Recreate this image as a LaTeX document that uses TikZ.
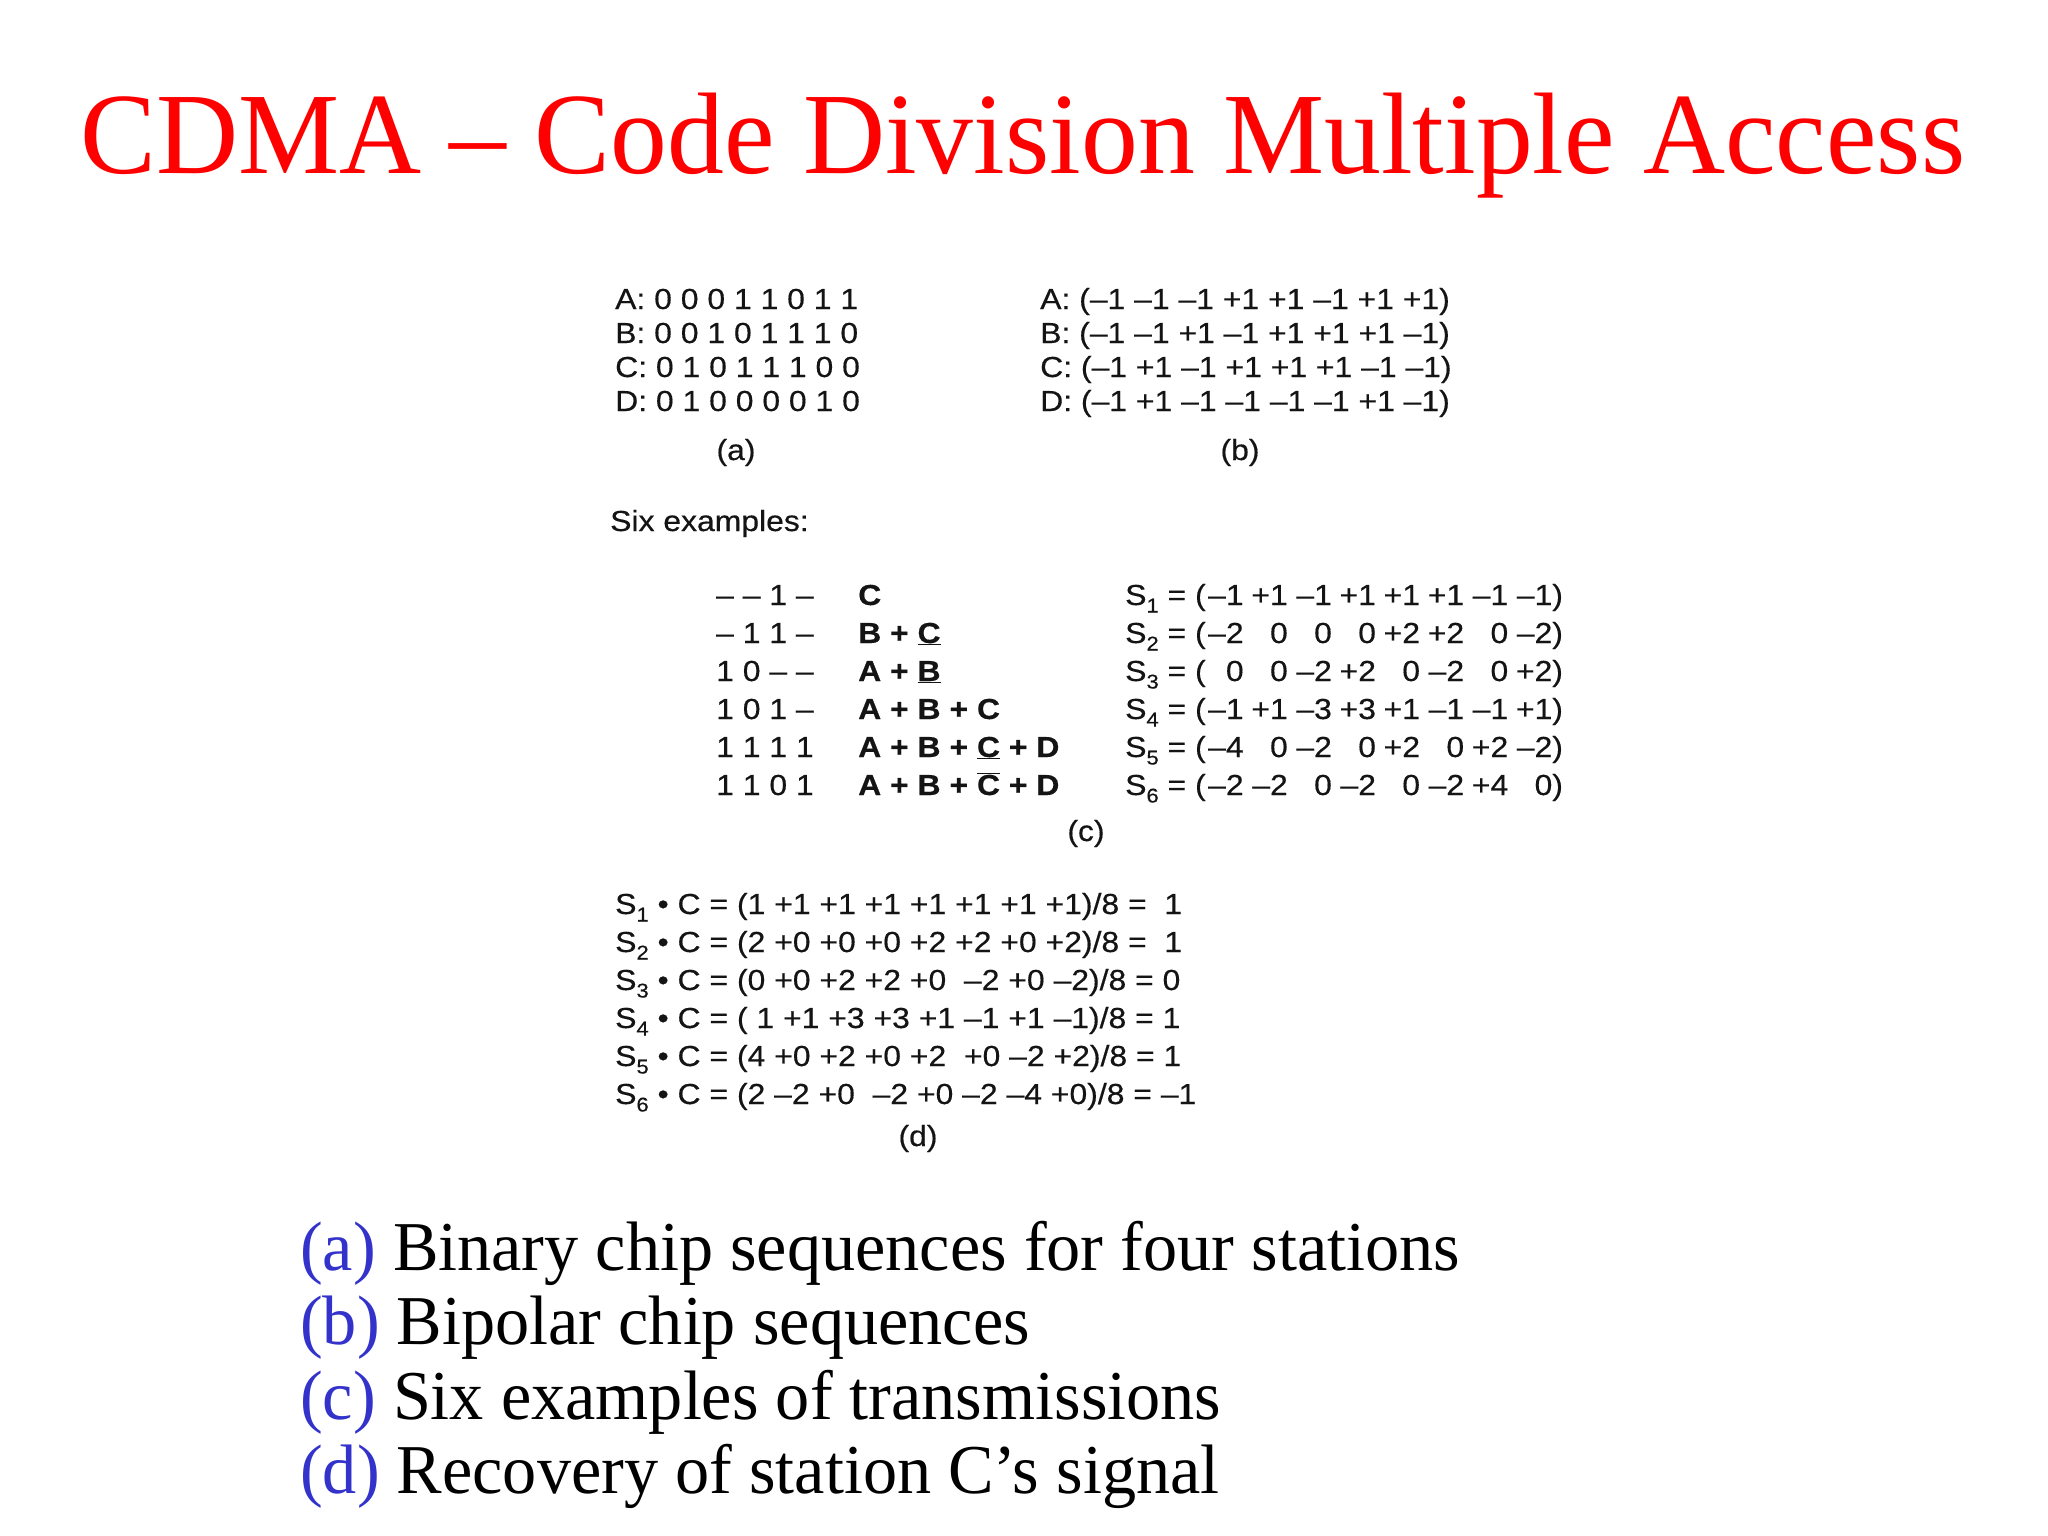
\documentclass[tikz,border=0pt]{standalone}
\usepackage{fontspec}
\setmainfont{Liberation Serif}
\newfontfamily\hv[FakeStretch=1.10,FakeBold=0.4]{Liberation Sans}
\newfontfamily\titlefont[FakeStretch=0.98]{Liberation Serif}
\newfontfamily\capfont[FakeStretch=0.975]{Liberation Serif}
\definecolor{titlered}{RGB}{255,0,0}
\definecolor{capblue}{RGB}{51,51,204}
\definecolor{ink}{RGB}{20,20,20}
\newcommand\sx[1]{{\fontsize{20pt}{20pt}\selectfont\raisebox{-7.5pt}{#1}}}
\newcommand\vb[1]{\makebox[44.1pt][r]{#1}}
\newcommand\vf[1]{\makebox[38pt][r]{#1}}
\newcommand\ubar[1]{\underline{#1}}
\newcommand\obar[1]{$\overline{\hbox{#1}}$}
\tikzset{
  body/.style={anchor=base west, inner sep=0pt, text=ink, font=\hv\fontsize{29pt}{29pt}\selectfont},
  bodyb/.style={body, font=\hv\bfseries\fontsize{29pt}{29pt}\selectfont},
  lab/.style={anchor=base, inner sep=0pt, text=ink, font=\hv\fontsize{29pt}{29pt}\selectfont},
  capline/.style={anchor=base west, inner sep=0pt, text=black, font=\capfont\fontsize{70pt}{70pt}\selectfont},
}
\begin{document}
\begin{tikzpicture}[x=1pt,y=-1pt]
\path[use as bounding box, fill=white] (0,0) rectangle (2048,1536);
% title
\node[anchor=base west, inner sep=0pt, text=titlered, font=\titlefont\fontsize{116pt}{116pt}\selectfont] (title) at (80,174) {CDMA – Code Division Multiple Access};
% (a)
\node[body] (a1) at (615,309) {A: 0 0 0 1 1 0 1 1};
\node[body] (a2) at (615,343) {B: 0 0 1 0 1 1 1 0};
\node[body] (a3) at (615,377) {C: 0 1 0 1 1 1 0 0};
\node[body] (a4) at (615,411) {D: 0 1 0 0 0 0 1 0};
\node[lab] (alab) at (736,460) {(a)};
% (b)
\node[body] (b1) at (1040,309) {A: (–1 –1 –1 +1 +1 –1 +1 +1)};
\node[body] (b2) at (1040,343) {B: (–1 –1 +1 –1 +1 +1 +1 –1)};
\node[body] (b3) at (1040,377) {C: (–1 +1 –1 +1 +1 +1 –1 –1)};
\node[body] (b4) at (1040,411) {D: (–1 +1 –1 –1 –1 –1 +1 –1)};
\node[lab] (blab) at (1240,460) {(b)};
% six examples
\node[body] (six) at (610,531) {Six examples:};
% (c) column 1
\node[body] (c11) at (716,605) {– – 1 –};
\node[body] (c12) at (716,643) {– 1 1 –};
\node[body] (c13) at (716,681) {1 0 – –};
\node[body] (c14) at (716,719) {1 0 1 –};
\node[body] (c15) at (716,757) {1 1 1 1};
\node[body] (c16) at (716,795) {1 1 0 1};
% (c) column 2
\node[bodyb] (c21) at (858,605) {C};
\node[bodyb] (c22) at (858,643) {B + \ubar{C}};
\node[bodyb] (c23) at (858,681) {A + \ubar{B}};
\node[bodyb] (c24) at (858,719) {A + B + C};
\node[bodyb] (c25) at (858,757) {A + B + \ubar{C} + D};
\node[bodyb] (c26) at (858,795) {A + B + \obar{C} + D};
% (c) column 3
\node[body] (c31) at (1125,605) {S\sx{1} = (\vf{–1}\vb{+1}\vb{–1}\vb{+1}\vb{+1}\vb{+1}\vb{–1}\vb{–1})};
\node[body] (c32) at (1125,643) {S\sx{2} = (\vf{–2}\vb{0}\vb{0}\vb{0}\vb{+2}\vb{+2}\vb{0}\vb{–2})};
\node[body] (c33) at (1125,681) {S\sx{3} = (\vf{0}\vb{0}\vb{–2}\vb{+2}\vb{0}\vb{–2}\vb{0}\vb{+2})};
\node[body] (c34) at (1125,719) {S\sx{4} = (\vf{–1}\vb{+1}\vb{–3}\vb{+3}\vb{+1}\vb{–1}\vb{–1}\vb{+1})};
\node[body] (c35) at (1125,757) {S\sx{5} = (\vf{–4}\vb{0}\vb{–2}\vb{0}\vb{+2}\vb{0}\vb{+2}\vb{–2})};
\node[body] (c36) at (1125,795) {S\sx{6} = (\vf{–2}\vb{–2}\vb{0}\vb{–2}\vb{0}\vb{–2}\vb{+4}\vb{0})};
\node[lab] (clab) at (1086,841) {(c)};
% (d)
\node[body] (d1) at (615,914) {S\sx{1} • C = (1 +1 +1 +1 +1 +1 +1 +1)/8 =\ \ 1};
\node[body] (d2) at (615,952) {S\sx{2} • C = (2 +0 +0 +0 +2 +2 +0 +2)/8 =\ \ 1};
\node[body] (d3) at (615,990) {S\sx{3} • C = (0 +0 +2 +2 +0 \ –2 +0 –2)/8 = 0};
\node[body] (d4) at (615,1028) {S\sx{4} • C = ( 1 +1 +3 +3 +1 –1 +1 –1)/8 = 1};
\node[body] (d5) at (615,1066) {S\sx{5} •\ C =\ (4 +0 +2 +0 +2 \ +0 –2 +2)/8 = 1};
\node[body] (d6) at (615,1104) {S\sx{6} •\ C =\ (2 –2 +0 \ –2 +0 –2 –4 +0)/8 = –1};
\node[lab] (dlab) at (918,1146) {(d)};
% captions
\node[capline] (L1) at (300,1270) {\textcolor{capblue}{(a)} Binary chip sequences for four stations};
\node[capline] (L2) at (300,1344.5) {\textcolor{capblue}{(b)} Bipolar chip sequences};
\node[capline] (L3) at (300,1419) {\textcolor{capblue}{(c)} Six examples of transmissions};
\node[capline] (L4) at (300,1493.5) {\textcolor{capblue}{(d)} Recovery of station C’s signal};
\end{tikzpicture}
\end{document}
